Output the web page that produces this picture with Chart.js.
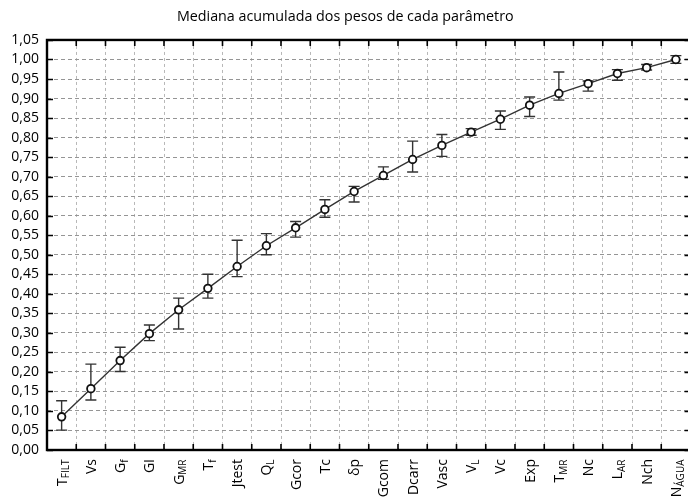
<!DOCTYPE html>
<html>
<head>
<meta charset="utf-8">
<script src="https://cdn.jsdelivr.net/npm/chart.js@4.4.0/dist/chart.umd.min.js"></script>
<style>
  html, body { margin: 0; padding: 0; background: #fff; width: 688px; height: 497px; overflow: hidden; }
  canvas { display: block; }
</style>
</head>
<body>
<canvas id="chart" width="700" height="530"></canvas>
<script>
// Parameters on the x axis; "|" separates the main symbol from its subscript.
const categories = ['T|FILT', 'Vs', 'G|f', 'GI', 'G|MR', 'T|f', 'Jtest', 'Q|L', 'Gcor', 'Tc', 'δp',
  'Gcom', 'Dcarr', 'Vasc', 'V|L', 'Vc', 'Exp', 'T|MR', 'Nc', 'L|AR', 'Nch', 'N|ÁGUA'];

// Cumulative median of the weights, with the lower / upper limits of each error bar.
const medians = [0.085, 0.157, 0.229, 0.298, 0.359, 0.414, 0.470, 0.523, 0.569, 0.616, 0.662,
  0.703, 0.744, 0.780, 0.814, 0.847, 0.883, 0.913, 0.938, 0.964, 0.979, 1.000];
const upper = [0.126, 0.220, 0.263, 0.320, 0.389, 0.450, 0.537, 0.554, 0.585, 0.641, 0.675,
  0.725, 0.791, 0.808, 0.823, 0.868, 0.904, 0.968, 0.945, 0.974, 0.987, 1.010];
const lower = [0.051, 0.128, 0.201, 0.280, 0.310, 0.389, 0.444, 0.500, 0.545, 0.596, 0.635,
  0.693, 0.712, 0.752, 0.806, 0.821, 0.854, 0.896, 0.919, 0.947, 0.973, 0.990];

// Y axis range and step.
const yMin = 0, yMax = 1.05, yStep = 0.05;

const FONT = '"Open Sans", "Noto Sans", sans-serif';
const INK = '#000';

// Error bars: vertical whisker with horizontal caps, under the markers.
const errorBars = {
  id: 'errorBars',
  beforeDatasetsDraw(chart) {
    const { ctx, scales: { x, y } } = chart;
    ctx.save();
    ctx.strokeStyle = '#333';
    ctx.lineWidth = 1.4;
    const cap = 5.5;
    categories.forEach((_, i) => {
      const px = x.getPixelForValue(i);
      const top = y.getPixelForValue(upper[i]);
      const bot = y.getPixelForValue(lower[i]);
      ctx.beginPath();
      ctx.moveTo(px, top); ctx.lineTo(px, bot);
      ctx.moveTo(px - cap, top); ctx.lineTo(px + cap, top);
      ctx.moveTo(px - cap, bot); ctx.lineTo(px + cap, bot);
      ctx.stroke();
    });
    ctx.restore();
  }
};

// Frame with inward tick marks, and the rotated category labels with subscripts.
const frame = {
  id: 'frame',
  afterDraw(chart) {
    const { ctx, chartArea: a, scales: { x, y } } = chart;
    ctx.save();
    ctx.strokeStyle = '#000';
    ctx.lineWidth = 1.6;
    ctx.beginPath();
    y.ticks.forEach(t => {
      const py = Math.round(y.getPixelForValue(t.value)) + 0.5;
      ctx.moveTo(a.left, py); ctx.lineTo(a.left + 6, py);
      ctx.moveTo(a.right, py); ctx.lineTo(a.right - 6, py);
    });
    for (let i = 1; i < categories.length; i++) {
      const px = (x.getPixelForValue(i - 1) + x.getPixelForValue(i)) / 2;
      ctx.moveTo(px, a.bottom); ctx.lineTo(px, a.bottom - 6);
      ctx.moveTo(px, a.top); ctx.lineTo(px, a.top + 6);
    }
    ctx.stroke();
    ctx.lineWidth = 2.4;
    ctx.strokeRect(a.left, a.top, a.right - a.left, a.bottom - a.top);

    // category labels, reading bottom-to-top, ending just under the axis
    ctx.fillStyle = INK;
    ctx.textBaseline = 'alphabetic';
    ctx.textAlign = 'left';
    const mainFont = '14px ' + FONT;
    const subFont = '10px ' + FONT;
    categories.forEach((lab, i) => {
      const [main, sub] = lab.split('|');
      ctx.font = mainFont;
      const wm = ctx.measureText(main).width;
      ctx.font = subFont;
      const ws = sub ? ctx.measureText(sub).width + 0.5 : 0;
      ctx.save();
      ctx.translate(x.getPixelForValue(i), a.bottom + 9);
      ctx.rotate(-Math.PI / 2);
      ctx.font = mainFont;
      ctx.fillText(main, -(wm + ws), 5);
      if (sub) {
        ctx.font = subFont;
        ctx.fillText(sub, -ws, 7.8);
      }
      ctx.restore();
    });
    ctx.restore();
  }
};

new Chart(document.getElementById('chart'), {
  type: 'line',
  data: {
    labels: categories,
    datasets: [{
      data: medians,
      borderColor: '#333',
      borderWidth: 1.4,
      tension: 0,
      pointRadius: 3.8,
      pointBorderWidth: 1.8,
      pointBorderColor: '#111',
      pointBackgroundColor: '#fff',
      clip: false
    }]
  },
  options: {
    responsive: false,
    animation: false,
    devicePixelRatio: 1,
    layout: { padding: { left: 0, right: 9.5, top: 0, bottom: 0 } },
    plugins: {
      legend: { display: false },
      tooltip: { enabled: false },
      title: {
        display: true,
        text: 'Mediana acumulada dos pesos de cada parâmetro',
        color: INK,
        font: { family: FONT, size: 14.3, weight: 'normal' },
        padding: { top: 8, bottom: 14.8 }
      }
    },
    scales: {
      x: {
        type: 'category',
        offset: true,
        grid: { offset: true, color: '#b8b8b8', lineWidth: 1, drawTicks: false },
        border: { display: false, dash: [3, 3] },
        ticks: { display: false },
        afterFit(s) { s.height = 80; }
      },
      y: {
        min: yMin,
        max: yMax,
        grid: { color: '#959595', lineWidth: 1, drawTicks: false },
        border: { display: false, dash: [4, 3] },
        ticks: {
          stepSize: yStep,
          autoSkip: false,
          padding: 8,
          color: INK,
          font: { family: FONT, size: 14 },
          callback: v => Number(v).toFixed(2).replace('.', ',')
        },
        afterFit(s) { s.width = 47; }
      }
    }
  },
  plugins: [errorBars, frame]
});
</script>
</body>
</html>
